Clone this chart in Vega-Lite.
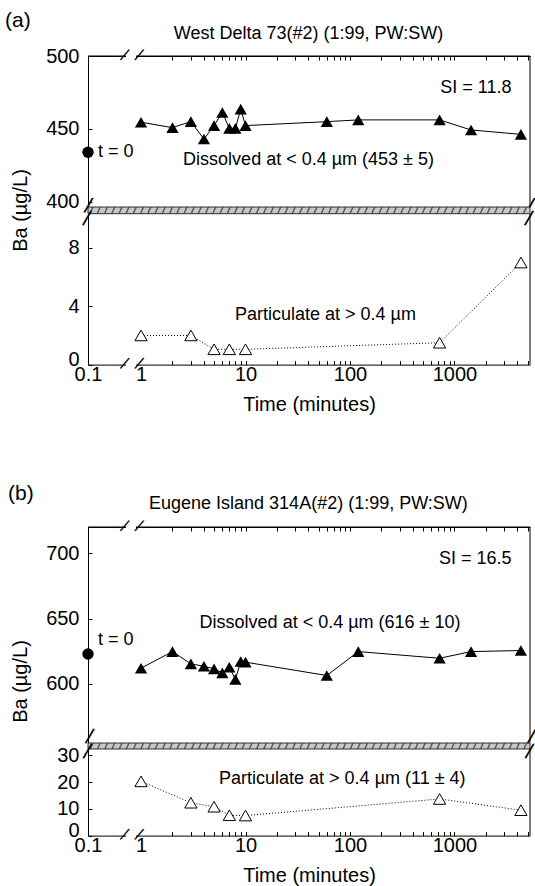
{
  "$schema": "https://vega.github.io/schema/vega-lite/v6.json",
  "padding": {"left": 5, "top": 10, "right": 0, "bottom": 3},
  "config": {
    "view": {"stroke": null},
    "font": "Liberation Sans",
    "axis": {"domainColor": "black", "domainWidth": 1, "tickColor": "black", "tickWidth": 1, "labelColor": "black", "labelFontSize": 20, "labelFont": "Liberation Sans", "titleFont": "Liberation Sans", "titleFontSize": 20, "titleFontWeight": "normal", "titleColor": "black", "grid": false, "labelFlush": false, "labelOverlap": false},
    "text": {"font": "Liberation Sans", "color": "black"}
  },
  "datasets": {
    "d": [
      {"panel": "a", "fraction": "dissolved", "time": 1, "ba": 454.6},
      {"panel": "a", "fraction": "dissolved", "time": 2, "ba": 450.9},
      {"panel": "a", "fraction": "dissolved", "time": 3, "ba": 455.0},
      {"panel": "a", "fraction": "dissolved", "time": 4, "ba": 443.1},
      {"panel": "a", "fraction": "dissolved", "time": 5, "ba": 452.3},
      {"panel": "a", "fraction": "dissolved", "time": 6, "ba": 461.3},
      {"panel": "a", "fraction": "dissolved", "time": 7, "ba": 450.4},
      {"panel": "a", "fraction": "dissolved", "time": 8, "ba": 450.4},
      {"panel": "a", "fraction": "dissolved", "time": 9, "ba": 463.6},
      {"panel": "a", "fraction": "dissolved", "time": 10, "ba": 452.3},
      {"panel": "a", "fraction": "dissolved", "time": 60, "ba": 455.0},
      {"panel": "a", "fraction": "dissolved", "time": 120, "ba": 456.2},
      {"panel": "a", "fraction": "dissolved", "time": 720, "ba": 456.2},
      {"panel": "a", "fraction": "dissolved", "time": 1440, "ba": 449.3},
      {"panel": "a", "fraction": "dissolved", "time": 4320, "ba": 446.3},
      {"panel": "a", "fraction": "particulate", "time": 1, "ba": 2.0},
      {"panel": "a", "fraction": "particulate", "time": 3, "ba": 2.0},
      {"panel": "a", "fraction": "particulate", "time": 5, "ba": 1.05},
      {"panel": "a", "fraction": "particulate", "time": 7, "ba": 1.05},
      {"panel": "a", "fraction": "particulate", "time": 10, "ba": 1.05},
      {"panel": "a", "fraction": "particulate", "time": 720, "ba": 1.5},
      {"panel": "a", "fraction": "particulate", "time": 4320, "ba": 7.0},
      {"panel": "a", "fraction": "t0", "time": 0.1, "ba": 434},
      {"panel": "b", "fraction": "dissolved", "time": 1, "ba": 612.0},
      {"panel": "b", "fraction": "dissolved", "time": 2, "ba": 624.7},
      {"panel": "b", "fraction": "dissolved", "time": 3, "ba": 615.3},
      {"panel": "b", "fraction": "dissolved", "time": 4, "ba": 613.5},
      {"panel": "b", "fraction": "dissolved", "time": 5, "ba": 611.5},
      {"panel": "b", "fraction": "dissolved", "time": 6, "ba": 608.4},
      {"panel": "b", "fraction": "dissolved", "time": 7, "ba": 612.7},
      {"panel": "b", "fraction": "dissolved", "time": 8, "ba": 603.4},
      {"panel": "b", "fraction": "dissolved", "time": 9, "ba": 617.1},
      {"panel": "b", "fraction": "dissolved", "time": 10, "ba": 616.6},
      {"panel": "b", "fraction": "dissolved", "time": 60, "ba": 606.4},
      {"panel": "b", "fraction": "dissolved", "time": 120, "ba": 624.7},
      {"panel": "b", "fraction": "dissolved", "time": 720, "ba": 619.6},
      {"panel": "b", "fraction": "dissolved", "time": 1440, "ba": 624.7},
      {"panel": "b", "fraction": "dissolved", "time": 4320, "ba": 625.5},
      {"panel": "b", "fraction": "particulate", "time": 1, "ba": 20.3},
      {"panel": "b", "fraction": "particulate", "time": 3, "ba": 12.3},
      {"panel": "b", "fraction": "particulate", "time": 5, "ba": 10.8},
      {"panel": "b", "fraction": "particulate", "time": 7, "ba": 7.6},
      {"panel": "b", "fraction": "particulate", "time": 10, "ba": 7.5},
      {"panel": "b", "fraction": "particulate", "time": 720, "ba": 13.7},
      {"panel": "b", "fraction": "particulate", "time": 4320, "ba": 9.5},
      {"panel": "b", "fraction": "t0", "time": 0.1, "ba": 622.9}
    ]
  },
  "bounds": "flush",
  "spacing": 0,
  "vconcat": [
    {
      "width": 442, "height": 151,
      "data": {"values": [{}]},
      "layer": [
        {
          "data": {"name": "d"},
          "transform": [{"filter": "datum.panel == 'a' && datum.fraction == 'dissolved'"}],
          "mark": {"type": "line", "color": "black", "strokeWidth": 1},
          "encoding": {
            "x": {"field": "time", "type": "quantitative", "scale": {"type": "log", "domain": [0.1, 0.8, 5280], "range": [0, 42.9, 442], "nice": false},
                  "axis": {"orient": "top", "values": [2,3,4,5,6,7,8,9,10,20,30,40,50,60,70,80,90,100,200,300,400,500,600,700,800,900,1000,2000,3000,4000,5000], "tickCount": 100, "labels": false, "title": null, "labelOverlap": false, "tickSize": -4}},
            "y": {"field": "ba", "type": "quantitative", "scale": {"domain": [396.5, 500], "nice": false, "zero": false},
                  "axis": {"orient": "left", "values": [400, 450, 500], "tickCount": 20, "format": "d", "title": "Ba (µg/L)", "titleX": -68, "titleY": 154, "titleAngle": -90, "titleAlign": "center", "titleBaseline": "middle", "tickSize": -4, "labelPadding": 13, "labelOverlap": false}}
          }
        },
        {
          "mark": {"type": "rule", "color": "black", "strokeWidth": 1},
          "encoding": {
            "x": {"datum": 5280, "type": "quantitative", "scale": {"type": "log", "domain": [0.1, 0.8, 5280], "range": [0, 42.9, 442], "nice": false}, "axis": {"orient": "top"}}
          }
        },
        {
          "mark": {"type": "rule", "color": "black", "strokeWidth": 1},
          "encoding": {
            "y": {"datum": 500, "type": "quantitative", "scale": {"domain": [396.5, 500], "nice": false, "zero": false}}
          }
        },
        {
          "data": {"name": "d"},
          "transform": [{"filter": "datum.panel == 'a' && datum.fraction == 'dissolved'"}],
          "mark": {"type": "point", "shape": "triangle-up", "filled": true, "color": "black", "size": 150, "opacity": 1},
          "encoding": {
            "x": {"field": "time", "type": "quantitative", "scale": {"type": "log", "domain": [0.1, 0.8, 5280], "range": [0, 42.9, 442], "nice": false}, "axis": {"orient": "top"}},
            "y": {"field": "ba", "type": "quantitative", "scale": {"domain": [396.5, 500], "nice": false, "zero": false}}
          }
        },
        {
          "data": {"name": "d"},
          "transform": [{"filter": "datum.panel == 'a' && datum.fraction == 't0'"}],
          "mark": {"type": "circle", "color": "black", "size": 130, "opacity": 1},
          "encoding": {
            "x": {"field": "time", "type": "quantitative", "scale": {"type": "log", "domain": [0.1, 0.8, 5280], "range": [0, 42.9, 442], "nice": false}, "axis": {"orient": "top"}},
            "y": {"field": "ba", "type": "quantitative", "scale": {"domain": [396.5, 500], "nice": false, "zero": false}}
          }
        },
        {
          "data": {"name": "d"},
          "transform": [{"filter": "datum.panel == 'a' && datum.fraction == 't0'"}],
          "mark": {"type": "text", "text": "t = 0", "align": "left", "baseline": "middle", "dx": 10, "fontSize": 18},
          "encoding": {
            "x": {"field": "time", "type": "quantitative", "scale": {"type": "log", "domain": [0.1, 0.8, 5280], "range": [0, 42.9, 442], "nice": false}, "axis": {"orient": "top"}},
            "y": {"field": "ba", "type": "quantitative", "scale": {"domain": [396.5, 500], "nice": false, "zero": false}}
          }
        },
        {
          "mark": {"type": "text", "text": "SI = 11.8", "align": "right", "baseline": "middle", "fontSize": 18},
          "encoding": {
            "x": {"datum": 3510, "type": "quantitative", "scale": {"type": "log", "domain": [0.1, 0.8, 5280], "range": [0, 42.9, 442], "nice": false}, "axis": {"orient": "top"}},
            "y": {"datum": 478, "type": "quantitative", "scale": {"domain": [396.5, 500], "nice": false, "zero": false}}
          }
        },
        {
          "mark": {"type": "text", "text": "Dissolved at < 0.4 µm (453 ± 5)", "align": "center", "baseline": "middle", "fontSize": 18},
          "encoding": {
            "x": {"datum": 40.1, "type": "quantitative", "scale": {"type": "log", "domain": [0.1, 0.8, 5280], "range": [0, 42.9, 442], "nice": false}, "axis": {"orient": "top"}},
            "y": {"datum": 428.8, "type": "quantitative", "scale": {"domain": [396.5, 500], "nice": false, "zero": false}}
          }
        },
        {
          "mark": {"type": "text", "text": "(a)", "align": "left", "baseline": "middle", "fontSize": 21, "dx": -83, "dy": -35},
          "encoding": {
            "x": {"datum": 0.1, "type": "quantitative", "scale": {"type": "log", "domain": [0.1, 0.8, 5280], "range": [0, 42.9, 442], "nice": false}, "axis": {"orient": "top"}},
            "y": {"datum": 500, "type": "quantitative", "scale": {"domain": [396.5, 500], "nice": false, "zero": false}}
          }
        },
        {
          "mark": {"type": "text", "text": "West Delta 73(#2) (1:99, PW:SW)", "align": "center", "baseline": "middle", "fontSize": 18, "dy": -22},
          "encoding": {
            "x": {"datum": 40, "type": "quantitative", "scale": {"type": "log", "domain": [0.1, 0.8, 5280], "range": [0, 42.9, 442], "nice": false}, "axis": {"orient": "top"}},
            "y": {"datum": 500, "type": "quantitative", "scale": {"domain": [396.5, 500], "nice": false, "zero": false}}
          }
        },
        {
          "mark": {"type": "rect", "fill": "white"},
          "encoding": {
            "x": {"datum": 0.632, "type": "quantitative", "scale": {"type": "log", "domain": [0.1, 0.8, 5280], "range": [0, 42.9, 442], "nice": false}, "axis": {"orient": "top"}},
            "x2": {"datum": 0.896},
            "y": {"datum": 498.6, "type": "quantitative", "scale": {"domain": [396.5, 500], "nice": false, "zero": false}},
            "y2": {"datum": 501.4}
          }
        },
        {
          "mark": {"type": "text", "text": "/", "align": "center", "baseline": "middle", "fontSize": 18, "angle": 25},
          "encoding": {
            "x": {"datum": 0.573, "type": "quantitative", "scale": {"type": "log", "domain": [0.1, 0.8, 5280], "range": [0, 42.9, 442], "nice": false}, "axis": {"orient": "top"}},
            "y": {"datum": 500, "type": "quantitative", "scale": {"domain": [396.5, 500], "nice": false, "zero": false}}
          }
        },
        {
          "mark": {"type": "text", "text": "/", "align": "center", "baseline": "middle", "fontSize": 18, "angle": 25},
          "encoding": {
            "x": {"datum": 0.946, "type": "quantitative", "scale": {"type": "log", "domain": [0.1, 0.8, 5280], "range": [0, 42.9, 442], "nice": false}, "axis": {"orient": "top"}},
            "y": {"datum": 500, "type": "quantitative", "scale": {"domain": [396.5, 500], "nice": false, "zero": false}}
          }
        },
        {
          "mark": {"type": "text", "text": "/", "align": "center", "baseline": "middle", "fontSize": 22, "angle": 15, "dy": -1},
          "encoding": {
            "x": {"datum": 0.1, "type": "quantitative", "scale": {"type": "log", "domain": [0.1, 0.8, 5280], "range": [0, 42.9, 442], "nice": false}, "axis": {"orient": "top"}},
            "y": {"datum": 396.5, "type": "quantitative", "scale": {"domain": [396.5, 500], "nice": false, "zero": false}}
          }
        },
        {
          "mark": {"type": "text", "text": "/", "align": "center", "baseline": "middle", "fontSize": 22, "angle": 15, "dy": -1},
          "encoding": {
            "x": {"datum": 5280, "type": "quantitative", "scale": {"type": "log", "domain": [0.1, 0.8, 5280], "range": [0, 42.9, 442], "nice": false}, "axis": {"orient": "top"}},
            "y": {"datum": 396.5, "type": "quantitative", "scale": {"domain": [396.5, 500], "nice": false, "zero": false}}
          }
        }
      ]
    },
    {
      "width": 442, "height": 6.7,
      "data": {"values": [{}]},
      "layer": [
        {
          "mark": {"type": "rect", "fill": "#c8c8c8", "stroke": "black", "strokeWidth": 0.8},
          "encoding": {
            "x": {"datum": 0.1, "type": "quantitative", "scale": {"type": "log", "domain": [0.1, 0.8, 5280], "range": [0, 42.9, 442], "nice": false}, "axis": null},
            "x2": {"datum": 5280},
            "y": {"datum": 0, "type": "quantitative", "scale": {"domain": [0, 1], "nice": false}, "axis": null},
            "y2": {"datum": 1}
          }
        },
        {
          "mark": {"type": "text", "text": "/////////////////////////////////////////////////////////////", "font": "DejaVu Sans Mono", "fontSize": 12, "align": "left", "baseline": "middle", "clip": true, "color": "#333333"},
          "encoding": {
            "x": {"datum": 0.1, "type": "quantitative", "scale": {"type": "log", "domain": [0.1, 0.8, 5280], "range": [0, 42.9, 442], "nice": false}, "axis": null},
            "y": {"datum": 0.5, "type": "quantitative", "scale": {"domain": [0, 1], "nice": false}, "axis": null}
          }
        }
      ]
    },
    {
      "width": 442, "height": 150.6,
      "data": {"values": [{}]},
      "layer": [
        {
          "data": {"name": "d"},
          "transform": [{"filter": "datum.panel == 'a' && datum.fraction == 'particulate'"}],
          "mark": {"type": "line", "color": "black", "strokeWidth": 1, "strokeDash": [1, 2]},
          "encoding": {
            "x": {"field": "time", "type": "quantitative", "scale": {"type": "log", "domain": [0.1, 0.8, 5280], "range": [0, 42.9, 442], "nice": false},
                  "axis": {"orient": "bottom", "values": [0.1,1,2,3,4,5,6,7,8,9,10,20,30,40,50,60,70,80,90,100,200,300,400,500,600,700,800,900,1000,2000,3000,4000,5000], "tickCount": 100,
                           "labelExpr": "datum.value == 0.1 ? '0.1' : datum.value == 1 ? '1' : datum.value == 10 ? '10' : datum.value == 100 ? '100' : datum.value == 1000 ? '1000' : ''",
                           "title": "Time (minutes)", "titlePadding": 10, "tickSize": -4, "labelPadding": 4, "labelOverlap": false,
                           "tickOpacity": {"condition": {"test": "datum.value < 1.5", "value": 0}, "value": 1}}},
            "y": {"field": "ba", "type": "quantitative", "scale": {"domain": [0, 10.33], "nice": false, "zero": false},
                  "axis": {"orient": "left", "values": [0, 4, 8], "tickCount": 20, "format": "d", "title": null, "tickSize": -4, "labelPadding": 13, "labelOverlap": false,
                           "labelOffset": {"condition": {"test": "datum.value == 0", "value": -5}, "value": 0}}}
          }
        },
        {
          "mark": {"type": "rule", "color": "black", "strokeWidth": 1},
          "encoding": {
            "x": {"datum": 5280, "type": "quantitative", "scale": {"type": "log", "domain": [0.1, 0.8, 5280], "range": [0, 42.9, 442], "nice": false}}
          }
        },
        {
          "data": {"name": "d"},
          "transform": [{"filter": "datum.panel == 'a' && datum.fraction == 'particulate'"}],
          "mark": {"type": "point", "shape": "triangle-up", "filled": true, "fill": "white", "stroke": "black", "strokeWidth": 1, "size": 150, "opacity": 1},
          "encoding": {
            "x": {"field": "time", "type": "quantitative", "scale": {"type": "log", "domain": [0.1, 0.8, 5280], "range": [0, 42.9, 442], "nice": false}},
            "y": {"field": "ba", "type": "quantitative", "scale": {"domain": [0, 10.33], "nice": false, "zero": false}}
          }
        },
        {
          "mark": {"type": "text", "text": "Particulate at > 0.4 µm", "align": "center", "baseline": "middle", "fontSize": 18},
          "encoding": {
            "x": {"datum": 58.2, "type": "quantitative", "scale": {"type": "log", "domain": [0.1, 0.8, 5280], "range": [0, 42.9, 442], "nice": false}},
            "y": {"datum": 3.4, "type": "quantitative", "scale": {"domain": [0, 10.33], "nice": false, "zero": false}}
          }
        },
        {
          "mark": {"type": "text", "text": "/", "align": "center", "baseline": "middle", "fontSize": 22, "angle": 15, "dy": 5},
          "encoding": {
            "x": {"datum": 0.1, "type": "quantitative", "scale": {"type": "log", "domain": [0.1, 0.8, 5280], "range": [0, 42.9, 442], "nice": false}},
            "y": {"datum": 10.33, "type": "quantitative", "scale": {"domain": [0, 10.33], "nice": false, "zero": false}}
          }
        },
        {
          "mark": {"type": "text", "text": "/", "align": "center", "baseline": "middle", "fontSize": 22, "angle": 15, "dy": 5},
          "encoding": {
            "x": {"datum": 5280, "type": "quantitative", "scale": {"type": "log", "domain": [0.1, 0.8, 5280], "range": [0, 42.9, 442], "nice": false}},
            "y": {"datum": 10.33, "type": "quantitative", "scale": {"domain": [0, 10.33], "nice": false, "zero": false}}
          }
        },
        {
          "mark": {"type": "rect", "fill": "white"},
          "encoding": {
            "x": {"datum": 0.632, "type": "quantitative", "scale": {"type": "log", "domain": [0.1, 0.8, 5280], "range": [0, 42.9, 442], "nice": false}},
            "x2": {"datum": 0.896},
            "y": {"datum": -0.1, "type": "quantitative", "scale": {"domain": [0, 10.33], "nice": false, "zero": false}},
            "y2": {"datum": 0.1}
          }
        },
        {
          "mark": {"type": "text", "text": "/", "align": "center", "baseline": "middle", "fontSize": 18, "angle": 25},
          "encoding": {
            "x": {"datum": 0.573, "type": "quantitative", "scale": {"type": "log", "domain": [0.1, 0.8, 5280], "range": [0, 42.9, 442], "nice": false}},
            "y": {"datum": 0, "type": "quantitative", "scale": {"domain": [0, 10.33], "nice": false, "zero": false}}
          }
        },
        {
          "mark": {"type": "text", "text": "/", "align": "center", "baseline": "middle", "fontSize": 18, "angle": 25},
          "encoding": {
            "x": {"datum": 0.946, "type": "quantitative", "scale": {"type": "log", "domain": [0.1, 0.8, 5280], "range": [0, 42.9, 442], "nice": false}},
            "y": {"datum": 0, "type": "quantitative", "scale": {"domain": [0, 10.33], "nice": false, "zero": false}}
          }
        }
      ]
    },
    {
      "width": 442, "height": 161.7,
      "data": {"values": [{}]},
      "mark": {"type": "text"},
      "encoding": {"text": {"value": ""}}
    },
    {
      "width": 442, "height": 215.7,
      "data": {"values": [{}]},
      "layer": [
        {
          "data": {"name": "d"},
          "transform": [{"filter": "datum.panel == 'b' && datum.fraction == 'dissolved'"}],
          "mark": {"type": "line", "color": "black", "strokeWidth": 1},
          "encoding": {
            "x": {"field": "time", "type": "quantitative", "scale": {"type": "log", "domain": [0.1, 0.8, 5280], "range": [0, 42.9, 442], "nice": false},
                  "axis": {"orient": "top", "values": [2,3,4,5,6,7,8,9,10,20,30,40,50,60,70,80,90,100,200,300,400,500,600,700,800,900,1000,2000,3000,4000,5000], "tickCount": 100, "labels": false, "title": null, "labelOverlap": false, "tickSize": -4}},
            "y": {"field": "ba", "type": "quantitative", "scale": {"domain": [555, 720], "nice": false, "zero": false},
                  "axis": {"orient": "left", "values": [600, 650, 700], "tickCount": 20, "format": "d", "title": "Ba (µg/L)", "titleX": -68, "titleY": 154, "titleAngle": -90, "titleAlign": "center", "titleBaseline": "middle", "tickSize": -4, "labelPadding": 13, "labelOverlap": false}}
          }
        },
        {
          "mark": {"type": "rule", "color": "black", "strokeWidth": 1},
          "encoding": {
            "x": {"datum": 5280, "type": "quantitative", "scale": {"type": "log", "domain": [0.1, 0.8, 5280], "range": [0, 42.9, 442], "nice": false}, "axis": {"orient": "top"}}
          }
        },
        {
          "mark": {"type": "rule", "color": "black", "strokeWidth": 1},
          "encoding": {
            "y": {"datum": 720, "type": "quantitative", "scale": {"domain": [555, 720], "nice": false, "zero": false}}
          }
        },
        {
          "data": {"name": "d"},
          "transform": [{"filter": "datum.panel == 'b' && datum.fraction == 'dissolved'"}],
          "mark": {"type": "point", "shape": "triangle-up", "filled": true, "color": "black", "size": 150, "opacity": 1},
          "encoding": {
            "x": {"field": "time", "type": "quantitative", "scale": {"type": "log", "domain": [0.1, 0.8, 5280], "range": [0, 42.9, 442], "nice": false}, "axis": {"orient": "top"}},
            "y": {"field": "ba", "type": "quantitative", "scale": {"domain": [555, 720], "nice": false, "zero": false}}
          }
        },
        {
          "data": {"name": "d"},
          "transform": [{"filter": "datum.panel == 'b' && datum.fraction == 't0'"}],
          "mark": {"type": "circle", "color": "black", "size": 130, "opacity": 1},
          "encoding": {
            "x": {"field": "time", "type": "quantitative", "scale": {"type": "log", "domain": [0.1, 0.8, 5280], "range": [0, 42.9, 442], "nice": false}, "axis": {"orient": "top"}},
            "y": {"field": "ba", "type": "quantitative", "scale": {"domain": [555, 720], "nice": false, "zero": false}}
          }
        },
        {
          "data": {"name": "d"},
          "transform": [{"filter": "datum.panel == 'b' && datum.fraction == 't0'"}],
          "mark": {"type": "text", "text": "t = 0", "align": "left", "baseline": "middle", "dx": 10, "dy": -14, "fontSize": 18},
          "encoding": {
            "x": {"field": "time", "type": "quantitative", "scale": {"type": "log", "domain": [0.1, 0.8, 5280], "range": [0, 42.9, 442], "nice": false}, "axis": {"orient": "top"}},
            "y": {"field": "ba", "type": "quantitative", "scale": {"domain": [555, 720], "nice": false, "zero": false}}
          }
        },
        {
          "mark": {"type": "text", "text": "SI = 16.5", "align": "right", "baseline": "middle", "fontSize": 18},
          "encoding": {
            "x": {"datum": 3510, "type": "quantitative", "scale": {"type": "log", "domain": [0.1, 0.8, 5280], "range": [0, 42.9, 442], "nice": false}, "axis": {"orient": "top"}},
            "y": {"datum": 695.4, "type": "quantitative", "scale": {"domain": [555, 720], "nice": false, "zero": false}}
          }
        },
        {
          "mark": {"type": "text", "text": "Dissolved at < 0.4 µm (616 ± 10)", "align": "center", "baseline": "middle", "fontSize": 18},
          "encoding": {
            "x": {"datum": 64.4, "type": "quantitative", "scale": {"type": "log", "domain": [0.1, 0.8, 5280], "range": [0, 42.9, 442], "nice": false}, "axis": {"orient": "top"}},
            "y": {"datum": 646.3, "type": "quantitative", "scale": {"domain": [555, 720], "nice": false, "zero": false}}
          }
        },
        {
          "mark": {"type": "text", "text": "(b)", "align": "left", "baseline": "middle", "fontSize": 21, "dx": -80, "dy": -33},
          "encoding": {
            "x": {"datum": 0.1, "type": "quantitative", "scale": {"type": "log", "domain": [0.1, 0.8, 5280], "range": [0, 42.9, 442], "nice": false}, "axis": {"orient": "top"}},
            "y": {"datum": 720, "type": "quantitative", "scale": {"domain": [555, 720], "nice": false, "zero": false}}
          }
        },
        {
          "mark": {"type": "text", "text": "Eugene Island 314A(#2) (1:99, PW:SW)", "align": "center", "baseline": "middle", "fontSize": 18, "dy": -23},
          "encoding": {
            "x": {"datum": 40, "type": "quantitative", "scale": {"type": "log", "domain": [0.1, 0.8, 5280], "range": [0, 42.9, 442], "nice": false}, "axis": {"orient": "top"}},
            "y": {"datum": 720, "type": "quantitative", "scale": {"domain": [555, 720], "nice": false, "zero": false}}
          }
        },
        {
          "mark": {"type": "rect", "fill": "white"},
          "encoding": {
            "x": {"datum": 0.632, "type": "quantitative", "scale": {"type": "log", "domain": [0.1, 0.8, 5280], "range": [0, 42.9, 442], "nice": false}, "axis": {"orient": "top"}},
            "x2": {"datum": 0.896},
            "y": {"datum": 718.9, "type": "quantitative", "scale": {"domain": [555, 720], "nice": false, "zero": false}},
            "y2": {"datum": 721.1}
          }
        },
        {
          "mark": {"type": "text", "text": "/", "align": "center", "baseline": "middle", "fontSize": 18, "angle": 25},
          "encoding": {
            "x": {"datum": 0.573, "type": "quantitative", "scale": {"type": "log", "domain": [0.1, 0.8, 5280], "range": [0, 42.9, 442], "nice": false}, "axis": {"orient": "top"}},
            "y": {"datum": 720, "type": "quantitative", "scale": {"domain": [555, 720], "nice": false, "zero": false}}
          }
        },
        {
          "mark": {"type": "text", "text": "/", "align": "center", "baseline": "middle", "fontSize": 18, "angle": 25},
          "encoding": {
            "x": {"datum": 0.946, "type": "quantitative", "scale": {"type": "log", "domain": [0.1, 0.8, 5280], "range": [0, 42.9, 442], "nice": false}, "axis": {"orient": "top"}},
            "y": {"datum": 720, "type": "quantitative", "scale": {"domain": [555, 720], "nice": false, "zero": false}}
          }
        },
        {
          "mark": {"type": "text", "text": "/", "align": "center", "baseline": "middle", "fontSize": 22, "angle": 15, "dy": -6},
          "encoding": {
            "x": {"datum": 0.1, "type": "quantitative", "scale": {"type": "log", "domain": [0.1, 0.8, 5280], "range": [0, 42.9, 442], "nice": false}, "axis": {"orient": "top"}},
            "y": {"datum": 555, "type": "quantitative", "scale": {"domain": [555, 720], "nice": false, "zero": false}}
          }
        },
        {
          "mark": {"type": "text", "text": "/", "align": "center", "baseline": "middle", "fontSize": 22, "angle": 15, "dy": -6},
          "encoding": {
            "x": {"datum": 5280, "type": "quantitative", "scale": {"type": "log", "domain": [0.1, 0.8, 5280], "range": [0, 42.9, 442], "nice": false}, "axis": {"orient": "top"}},
            "y": {"datum": 555, "type": "quantitative", "scale": {"domain": [555, 720], "nice": false, "zero": false}}
          }
        }
      ]
    },
    {
      "width": 442, "height": 6,
      "data": {"values": [{}]},
      "layer": [
        {
          "mark": {"type": "rect", "fill": "#c8c8c8", "stroke": "black", "strokeWidth": 0.8},
          "encoding": {
            "x": {"datum": 0.1, "type": "quantitative", "scale": {"type": "log", "domain": [0.1, 0.8, 5280], "range": [0, 42.9, 442], "nice": false}, "axis": null},
            "x2": {"datum": 5280},
            "y": {"datum": 0, "type": "quantitative", "scale": {"domain": [0, 1], "nice": false}, "axis": null},
            "y2": {"datum": 1}
          }
        },
        {
          "mark": {"type": "text", "text": "/////////////////////////////////////////////////////////////", "font": "DejaVu Sans Mono", "fontSize": 12, "align": "left", "baseline": "middle", "clip": true, "color": "#333333"},
          "encoding": {
            "x": {"datum": 0.1, "type": "quantitative", "scale": {"type": "log", "domain": [0.1, 0.8, 5280], "range": [0, 42.9, 442], "nice": false}, "axis": null},
            "y": {"datum": 0.5, "type": "quantitative", "scale": {"domain": [0, 1], "nice": false}, "axis": null}
          }
        }
      ]
    },
    {
      "width": 442, "height": 86.6,
      "data": {"values": [{}]},
      "layer": [
        {
          "data": {"name": "d"},
          "transform": [{"filter": "datum.panel == 'b' && datum.fraction == 'particulate'"}],
          "mark": {"type": "line", "color": "black", "strokeWidth": 1, "strokeDash": [1, 2]},
          "encoding": {
            "x": {"field": "time", "type": "quantitative", "scale": {"type": "log", "domain": [0.1, 0.8, 5280], "range": [0, 42.9, 442], "nice": false},
                  "axis": {"orient": "bottom", "values": [0.1,1,2,3,4,5,6,7,8,9,10,20,30,40,50,60,70,80,90,100,200,300,400,500,600,700,800,900,1000,2000,3000,4000,5000], "tickCount": 100,
                           "labelExpr": "datum.value == 0.1 ? '0.1' : datum.value == 1 ? '1' : datum.value == 10 ? '10' : datum.value == 100 ? '100' : datum.value == 1000 ? '1000' : ''",
                           "title": "Time (minutes)", "titlePadding": 10, "tickSize": -4, "labelPadding": 4, "labelOverlap": false,
                           "tickOpacity": {"condition": {"test": "datum.value < 1.5", "value": 0}, "value": 1}}},
            "y": {"field": "ba", "type": "quantitative", "scale": {"domain": [0, 32.4], "nice": false, "zero": false},
                  "axis": {"orient": "left", "values": [0, 10, 20, 30], "tickCount": 20, "format": "d", "title": null, "tickSize": -4, "labelPadding": 13, "labelOverlap": false,
                           "labelOffset": {"condition": {"test": "datum.value == 0", "value": -5}, "value": 0}}}
          }
        },
        {
          "mark": {"type": "rule", "color": "black", "strokeWidth": 1},
          "encoding": {
            "x": {"datum": 5280, "type": "quantitative", "scale": {"type": "log", "domain": [0.1, 0.8, 5280], "range": [0, 42.9, 442], "nice": false}}
          }
        },
        {
          "data": {"name": "d"},
          "transform": [{"filter": "datum.panel == 'b' && datum.fraction == 'particulate'"}],
          "mark": {"type": "point", "shape": "triangle-up", "filled": true, "fill": "white", "stroke": "black", "strokeWidth": 1, "size": 150, "opacity": 1},
          "encoding": {
            "x": {"field": "time", "type": "quantitative", "scale": {"type": "log", "domain": [0.1, 0.8, 5280], "range": [0, 42.9, 442], "nice": false}},
            "y": {"field": "ba", "type": "quantitative", "scale": {"domain": [0, 32.4], "nice": false, "zero": false}}
          }
        },
        {
          "mark": {"type": "text", "text": "Particulate at > 0.4 µm (11 ± 4)", "align": "center", "baseline": "middle", "fontSize": 18},
          "encoding": {
            "x": {"datum": 84.4, "type": "quantitative", "scale": {"type": "log", "domain": [0.1, 0.8, 5280], "range": [0, 42.9, 442], "nice": false}},
            "y": {"datum": 21.2, "type": "quantitative", "scale": {"domain": [0, 32.4], "nice": false, "zero": false}}
          }
        },
        {
          "mark": {"type": "text", "text": "/", "align": "center", "baseline": "middle", "fontSize": 22, "angle": 15, "dy": 3},
          "encoding": {
            "x": {"datum": 0.1, "type": "quantitative", "scale": {"type": "log", "domain": [0.1, 0.8, 5280], "range": [0, 42.9, 442], "nice": false}},
            "y": {"datum": 32.4, "type": "quantitative", "scale": {"domain": [0, 32.4], "nice": false, "zero": false}}
          }
        },
        {
          "mark": {"type": "text", "text": "/", "align": "center", "baseline": "middle", "fontSize": 22, "angle": 15, "dy": 3},
          "encoding": {
            "x": {"datum": 5280, "type": "quantitative", "scale": {"type": "log", "domain": [0.1, 0.8, 5280], "range": [0, 42.9, 442], "nice": false}},
            "y": {"datum": 32.4, "type": "quantitative", "scale": {"domain": [0, 32.4], "nice": false, "zero": false}}
          }
        },
        {
          "mark": {"type": "rect", "fill": "white"},
          "encoding": {
            "x": {"datum": 0.632, "type": "quantitative", "scale": {"type": "log", "domain": [0.1, 0.8, 5280], "range": [0, 42.9, 442], "nice": false}},
            "x2": {"datum": 0.896},
            "y": {"datum": -0.55, "type": "quantitative", "scale": {"domain": [0, 32.4], "nice": false, "zero": false}},
            "y2": {"datum": 0.55}
          }
        },
        {
          "mark": {"type": "text", "text": "/", "align": "center", "baseline": "middle", "fontSize": 18, "angle": 25},
          "encoding": {
            "x": {"datum": 0.573, "type": "quantitative", "scale": {"type": "log", "domain": [0.1, 0.8, 5280], "range": [0, 42.9, 442], "nice": false}},
            "y": {"datum": 0, "type": "quantitative", "scale": {"domain": [0, 32.4], "nice": false, "zero": false}}
          }
        },
        {
          "mark": {"type": "text", "text": "/", "align": "center", "baseline": "middle", "fontSize": 18, "angle": 25},
          "encoding": {
            "x": {"datum": 0.946, "type": "quantitative", "scale": {"type": "log", "domain": [0.1, 0.8, 5280], "range": [0, 42.9, 442], "nice": false}},
            "y": {"datum": 0, "type": "quantitative", "scale": {"domain": [0, 32.4], "nice": false, "zero": false}}
          }
        }
      ]
    }
  ]
}
